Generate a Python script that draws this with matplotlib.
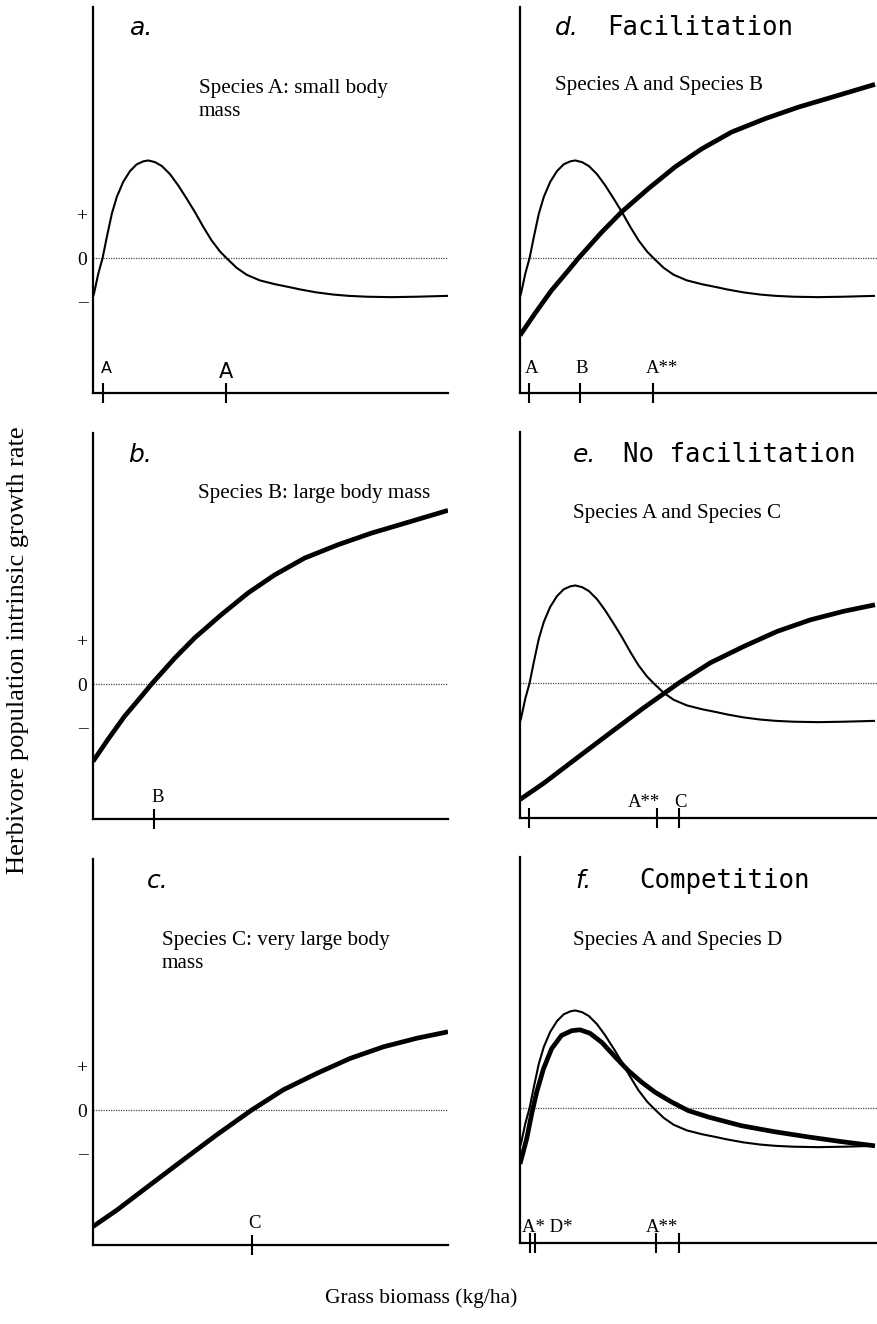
import matplotlib
matplotlib.use("Agg")
import matplotlib.pyplot as plt

# ---------------- data ----------------
grass_A = [0.0, 0.03, 0.15, 0.27, 0.39, 0.53, 0.67, 0.85, 1.04, 1.23, 1.42, 1.56,
           1.75, 1.94, 2.17, 2.4, 2.64, 2.87, 3.11, 3.34, 3.58, 3.77, 4.05, 4.33,
           4.7, 5.13, 5.55, 5.83, 6.3, 6.77, 7.2, 7.71, 8.4, 9.12, 10.0]
rate_A = [-0.9, -0.82, -0.36, 0.0, 0.49, 1.03, 1.42, 1.77, 2.02, 2.18, 2.25, 2.27,
          2.23, 2.14, 1.95, 1.69, 1.38, 1.07, 0.72, 0.41, 0.15, -0.01, -0.23, -0.39,
          -0.52, -0.61, -0.68, -0.73, -0.8, -0.85, -0.88, -0.9, -0.91, -0.9, -0.88]

grass_B = [0.0, 0.42, 0.89, 1.36, 1.65, 2.3, 2.86, 3.61, 4.37, 5.12, 5.96, 6.9,
           7.84, 8.78, 10.0]
rate_B = [-1.8, -1.29, -0.75, -0.29, 0.0, 0.6, 1.07, 1.61, 2.12, 2.54, 2.93, 3.24,
          3.51, 3.74, 4.04]

grass_C = [0.0, 0.67, 1.61, 2.54, 3.48, 4.47, 5.36, 6.3, 7.24, 8.18, 9.12, 10.0]
rate_C = [-2.71, -2.33, -1.74, -1.16, -0.58, 0.0, 0.47, 0.85, 1.2, 1.47, 1.67, 1.82]

grass_D = [0.0, 0.19, 0.33, 0.47, 0.66, 0.89, 1.17, 1.46, 1.69, 1.97, 2.3, 2.68,
           3.05, 3.43, 3.8, 4.27, 4.74, 5.31, 6.23, 7.16, 8.1, 9.04, 10.0]
rate_D = [-1.3, -0.71, -0.13, 0.37, 0.91, 1.38, 1.69, 1.8, 1.82, 1.74, 1.53, 1.19,
          0.87, 0.6, 0.37, 0.14, -0.06, -0.21, -0.41, -0.55, -0.67, -0.78, -0.88]

ytick_vals = [1, 0, -1]
ytick_labels = ["+", "0", "\u2013"]

ticks_a = [0.29, 3.75]
ticks_b = [1.72]
ticks_c = [4.47]
ticks_d = [0.24, 1.69, 3.74]
ticks_e = [0.26, 3.87, 4.49]
ticks_f = [0.29, 0.42, 3.83, 4.47]

letters = ["a.", "b.", "c.", "d.", "e.", "f."]
headings = ["", "", "", "Facilitation", "No facilitation", "Competition"]
subtitles = ["Species A: small body\nmass", "Species B: large body mass",
             "Species C: very large body\nmass", "Species A and Species B",
             "Species A and Species C", "Species A and Species D"]

# ---------------- figure ----------------
W, H = 877, 1324
fig = plt.figure(figsize=(W / 100, H / 100), dpi=100)
SERIF = "Liberation Serif"


def fx(x):
    return x / W


def fy(y):
    return 1 - y / H


def make_axes(left, bottom, width, height=386):
    ax = fig.add_axes([fx(left), fy(bottom), width / W, height / H])
    ax.set_ylim(-3.14, 5.84)
    ax.set_xlim(0, width / 35.5)
    for s in ["top", "right"]:
        ax.spines[s].set_visible(False)
    for s in ["left", "bottom"]:
        ax.spines[s].set_linewidth(1.6)
    ax.axhline(0, ls=(0, (1, 1)), lw=0.9, color="0.3", zorder=1)
    return ax


lefts = [93, 93, 93, 520, 520, 520]
bottoms = [393, 819, 1245, 393, 818, 1243]
widths = [355, 355, 355, 357, 357, 357]
axes = [make_axes(l, b, w) for l, b, w in zip(lefts, bottoms, widths)]
ax_a, ax_b, ax_c, ax_d, ax_e, ax_f = axes

thin, thick = 1.5, 3.4
kw = dict(color="k", solid_joinstyle="round", solid_capstyle="butt")
ax_a.plot(grass_A, rate_A, lw=thin, **kw)
ax_b.plot(grass_B, rate_B, lw=thick, **kw)
ax_c.plot(grass_C, rate_C, lw=thick, **kw)
ax_d.plot(grass_A, rate_A, lw=thin, **kw)
ax_d.plot(grass_B, rate_B, lw=thick, **kw)
ax_e.plot(grass_A, rate_A, lw=thin, **kw)
ax_e.plot(grass_C, rate_C, lw=thick, **kw)
ax_f.plot(grass_A, rate_A, lw=thin, **kw)
ax_f.plot(grass_D, rate_D, lw=thick, **kw)

# y ticks (left column only)
for i, ax in enumerate(axes):
    if i < 3:
        ax.set_yticks(ytick_vals)
        ax.set_yticklabels(ytick_labels, fontfamily=SERIF, fontsize=14)
        ax.tick_params(axis="y", length=0, pad=4)
    else:
        ax.set_yticks([])

# x ticks
all_ticks = [ticks_a, ticks_b, ticks_c, ticks_d, ticks_e, ticks_f]
for ax, t in zip(axes, all_ticks):
    ax.set_xticks(t)
    ax.set_xticklabels([""] * len(t))
    ax.tick_params(axis="x", direction="inout", length=15, width=1.5)


def tlabel(ax, x, text, dy=20, dx=0, ha="center", **kw):
    ax.annotate(text, xy=(x, 0), xycoords=("data", "axes fraction"),
                xytext=(dx, dy), textcoords="offset pixels", ha=ha, va="baseline",
                **kw)


tlabel(ax_a, ticks_a[0], "A", dy=20, dx=3, fontfamily="DejaVu Sans", fontsize=11.5)
tlabel(ax_a, ticks_a[1], "A", dy=15, dx=0, fontfamily="DejaVu Sans", fontsize=15)
tlabel(ax_b, ticks_b[0], "B", dy=17, dx=4, fontfamily=SERIF, fontsize=13.5)
tlabel(ax_c, ticks_c[0], "C", dy=17, dx=3, fontfamily=SERIF, fontsize=13.5)
tlabel(ax_d, ticks_d[0], "A", dy=20, dx=3, fontfamily=SERIF, fontsize=13.5)
tlabel(ax_d, ticks_d[1], "B", dy=20, dx=2, fontfamily=SERIF, fontsize=13.5)
tlabel(ax_d, ticks_d[2], "A**", dy=20, dx=-7, ha="left", fontfamily=SERIF, fontsize=13.5)
tlabel(ax_e, ticks_e[1], "A**", dy=11, dx=3, ha="right", fontfamily=SERIF, fontsize=13.5)
tlabel(ax_e, ticks_e[2], "C", dy=11, dx=1, fontfamily=SERIF, fontsize=13.5)
tlabel(ax_f, ticks_f[0], "A* D*", dy=11, dx=-8, ha="left", fontfamily=SERIF, fontsize=13.5)
tlabel(ax_f, ticks_f[2], "A**", dy=11, dx=-10, ha="left", fontfamily=SERIF, fontsize=13.5)

# panel letters and headings
letter_pos = [(130, 35), (128, 462), (147, 888), (555, 35), (573, 462), (575, 888)]
heading_x = [None, None, None, 607, 623, 639]
for i in range(6):
    lx, ly = letter_pos[i]
    fig.text(fx(lx), fy(ly), letters[i], fontfamily="DejaVu Sans", style="italic",
             fontsize=18, va="baseline", ha="left")
    if headings[i]:
        fig.text(fx(heading_x[i]), fy(ly), headings[i], fontfamily="DejaVu Sans Mono",
                 fontsize=18.5, va="baseline", ha="left")

# subtitles
sub_pos = [(199, 93), (198, 498), (162, 945), (555, 90), (573, 518), (573, 945)]
for (sx, sy), s in zip(sub_pos, subtitles):
    lines = s.split("\n")
    for j, line in enumerate(lines):
        fig.text(fx(sx), fy(sy + 23 * j), line, fontfamily=SERIF, fontsize=15.2,
                 va="baseline", ha="left")

# axis titles
fig.text(fx(18), fy(650), "Herbivore population intrinsic growth rate", rotation=90,
         fontfamily=SERIF, fontsize=19, ha="center", va="center")
fig.text(fx(421), fy(1298), "Grass biomass (kg/ha)", fontfamily=SERIF, fontsize=15.5,
         ha="center", va="center")

fig.savefig("out.png", dpi=100)
